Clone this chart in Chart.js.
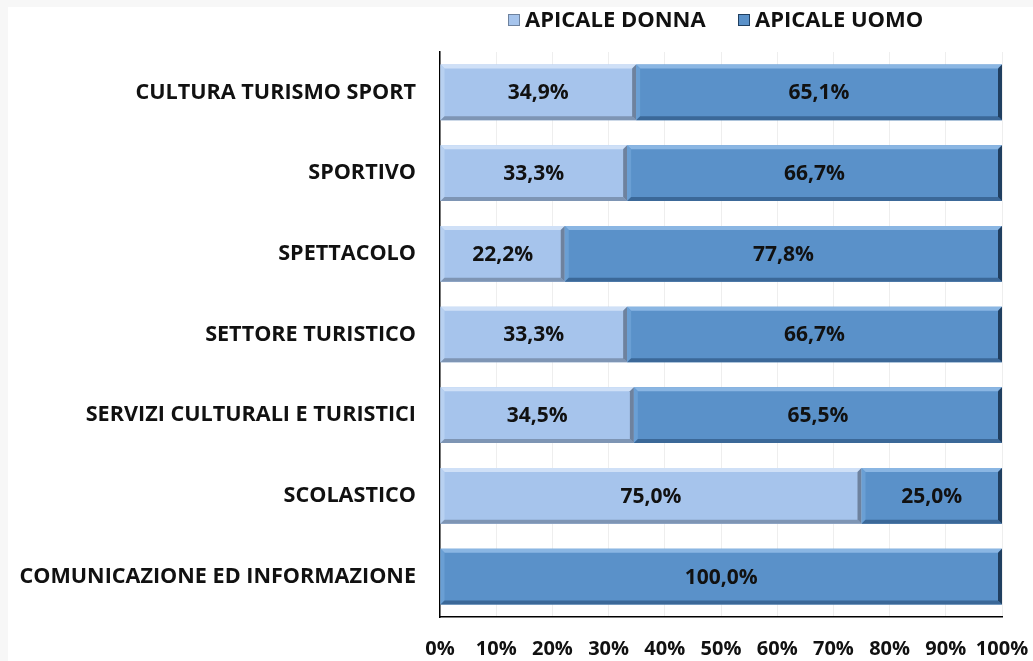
<!DOCTYPE html>
<html lang="it">
<head>
<meta charset="utf-8">
<title>Apicale donna / uomo per settore</title>
<script src="https://cdn.jsdelivr.net/npm/chart.js@4.4.1/dist/chart.umd.min.js"></script>
<style>
    html, body { margin: 0; padding: 0; background: #f7f7f7; }
    #wrap { position: absolute; left: 0; top: 0; width: 1033px; height: 661px; }
</style>
</head>
<body>
<div id="wrap"><canvas id="chart" width="1033" height="661"></canvas></div>
<script>
// Data
const categories = [
    'CULTURA TURISMO SPORT',
    'SPORTIVO',
    'SPETTACOLO',
    'SETTORE TURISTICO',
    'SERVIZI CULTURALI E TURISTICI',
    'SCOLASTICO',
    'COMUNICAZIONE ED INFORMAZIONE'
];
const apicaleDonna = [34.9, 33.3, 22.2, 33.3, 34.5, 75.0, 0];
const apicaleUomo = [65.1, 66.7, 77.8, 66.7, 65.5, 25.0, 100.0];
const xTicks = [0, 10, 20, 30, 40, 50, 60, 70, 80, 90, 100];

const FONT = '"Open Sans", sans-serif';

// Colours per series: base, top highlight, left, bottom shade, right shade
const palette = [
    { base: '#a6c4ec', top: '#cfe0f7', left: '#b8d1f1', bottom: '#7e95b4', right: '#6e829e' },
    { base: '#5a91c9', top: '#8ab6e3', left: '#6a9fd4', bottom: '#3b6898', right: '#203f60' }
];

// ============================================================================
// Plugins
// ============================================================================

// grey frame on top/left like the screenshot
const framePlugin = {
    id: 'frame',
    beforeDraw(chart) {
        const c = chart.ctx;
        c.save();
        c.fillStyle = '#ffffff';
        c.fillRect(0, 0, chart.width, chart.height);
        c.fillStyle = '#f7f7f7';
        c.fillRect(0, 0, chart.width, 7);
        c.fillRect(0, 0, 8, chart.height);
        c.restore();
    }
};

// bevelled look for each bar, using the bar elements from the library
const bevelPlugin = {
    id: 'bevel',
    afterDatasetsDraw(chart) {
        const c = chart.ctx;
        const b = 4;
        chart.data.datasets.forEach((ds, i) => {
            const meta = chart.getDatasetMeta(i);
            const col = palette[i];
            meta.data.forEach((bar, j) => {
                if (!ds.data[j]) return;
                const p = bar.getProps(['x', 'y', 'base', 'height'], true);
                const l = Math.min(p.base, p.x), r = Math.max(p.base, p.x);
                const t = p.y - p.height / 2, bt = p.y + p.height / 2;
                const quad = (pts, fill) => {
                    c.beginPath();
                    c.moveTo(pts[0][0], pts[0][1]);
                    for (let k = 1; k < pts.length; k++) c.lineTo(pts[k][0], pts[k][1]);
                    c.closePath();
                    c.fillStyle = fill;
                    c.fill();
                };
                c.save();
                quad([[l, t], [r, t], [r - b, t + b], [l + b, t + b]], col.top);
                quad([[l, t], [l + b, t + b], [l + b, bt - b], [l, bt]], col.left);
                quad([[l, bt], [l + b, bt - b], [r - b, bt - b], [r, bt]], col.bottom);
                quad([[r, t], [r, bt], [r - b, bt - b], [r - b, t + b]], col.right);
                c.restore();
            });
        });
    }
};

// value labels in the middle of every segment
const valueLabelPlugin = {
    id: 'valueLabels',
    afterDatasetsDraw(chart) {
        const c = chart.ctx;
        c.save();
        c.font = 'bold 21px ' + FONT;
        c.fillStyle = '#111111';
        c.textAlign = 'center';
        c.textBaseline = 'middle';
        chart.data.datasets.forEach((ds, i) => {
            chart.getDatasetMeta(i).data.forEach((bar, j) => {
                const v = ds.data[j];
                if (!v) return;
                const p = bar.getProps(['x', 'y', 'base'], true);
                const txt = v.toFixed(1).replace('.', ',') + '%';
                c.fillText(txt, (p.x + p.base) / 2, p.y + 1);
            });
        });
        c.restore();
    }
};

// legend drawn by hand so it can sit close to the top edge
const legendPlugin = {
    id: 'topLegend',
    afterDraw(chart) {
        const c = chart.ctx;
        const items = [
            { x: 508, ds: 0 },
            { x: 738, ds: 1 }
        ];
        c.save();
        c.font = 'bold 22px ' + FONT;
        c.textBaseline = 'middle';
        c.textAlign = 'left';
        items.forEach(it => {
            const col = palette[it.ds];
            c.fillStyle = col.base;
            c.fillRect(it.x, 14, 12, 12);
            c.strokeStyle = col.right;
            c.lineWidth = 1;
            c.strokeRect(it.x + 0.5, 14.5, 11, 11);
            c.fillStyle = '#111111';
            c.fillText(chart.data.datasets[it.ds].label, it.x + 17, 21);
        });
        c.restore();
    }
};

// ============================================================================
// Chart
// ============================================================================

const ctx = document.getElementById('chart');

new Chart(ctx, {
    type: 'bar',
    data: {
        labels: categories,
        datasets: [
            {
                label: 'APICALE DONNA',
                data: apicaleDonna,
                backgroundColor: palette[0].base,
                borderWidth: 0,
                barPercentage: 0.69,
                categoryPercentage: 1
            },
            {
                label: 'APICALE UOMO',
                data: apicaleUomo,
                backgroundColor: palette[1].base,
                borderWidth: 0,
                barPercentage: 0.69,
                categoryPercentage: 1
            }
        ]
    },
    options: {
        indexAxis: 'y',
        responsive: false,
        animation: false,
        devicePixelRatio: 1,
        layout: {
            padding: { left: 8, top: 52, right: 31, bottom: 0 }
        },
        plugins: {
            legend: { display: false },
            tooltip: { enabled: false }
        },
        scales: {
            x: {
                stacked: true,
                min: 0,
                max: 100,
                afterBuildTicks(scale) {
                    scale.ticks = xTicks.map(v => ({ value: v }));
                },
                afterFit(scale) {
                    scale.height = 44;
                    scale.paddingLeft = 0;
                    scale.paddingRight = 0;
                },
                grid: {
                    color: '#eeeeee',
                    drawTicks: false
                },
                border: { color: '#000000', width: 1.5 },
                ticks: {
                    color: '#111111',
                    padding: 20,
                    maxRotation: 0,
                    minRotation: 0,
                    autoSkip: false,
                    font: { family: FONT, size: 20, weight: 'bold' },
                    callback: v => v + '%'
                }
            },
            y: {
                stacked: true,
                afterFit(scale) {
                    scale.width = 432;
                },
                grid: { display: false, drawTicks: false },
                border: { color: '#000000', width: 1.5 },
                ticks: {
                    color: '#111111',
                    padding: 24,
                    font: { family: FONT, size: 21.6, weight: 'bold' }
                }
            }
        }
    },
    plugins: [framePlugin, bevelPlugin, valueLabelPlugin, legendPlugin]
});
</script>
</body>
</html>
